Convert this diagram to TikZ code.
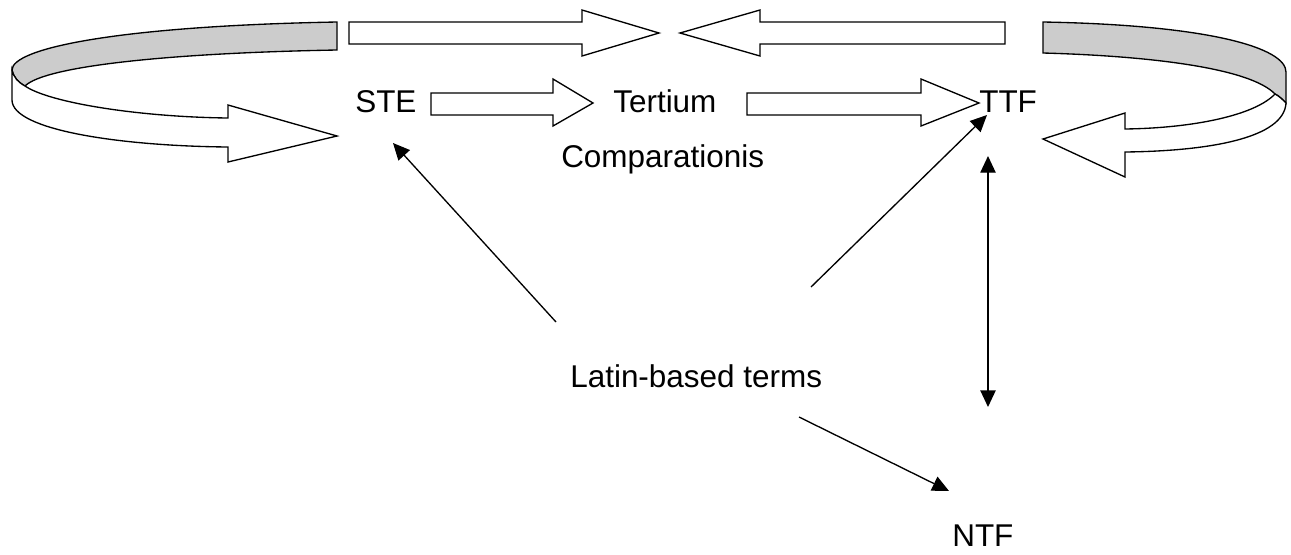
\documentclass[tikz,border=0pt]{standalone}
\usepackage{fontspec}
\setmainfont{Liberation Sans}
\usetikzlibrary{arrows.meta}
\begin{document}
\begin{tikzpicture}[x=0.75pt,y=-0.75pt,
  label/.style={anchor=base west,inner sep=0pt,font=\fontsize{23.6}{28}\selectfont},
  ribbon/.style={draw=black,line width=1pt,line join=miter},
  band/.style={ribbon,fill=white},
  backside/.style={ribbon,fill=black!20},
  link/.style={draw=black,line width=1pt,-{Triangle[length=12.5pt,width=11.5pt]}},
  twoway/.style={draw=black,line width=1pt,{Triangle[length=12.5pt,width=11.5pt]}-{Triangle[length=12.5pt,width=11.5pt]}}]
\useasboundingbox (0,0) rectangle (1291,554);

% text labels
\node[label] (ste) at (355,112) {STE};
\node[label] (tert) at (613,112) {Tertium};
\node[label] (comp) at (561,167) {Comparationis};
\node[label] (ttf) at (979,112) {TTF};
\node[label] (lat) at (570,387) {Latin-based terms};
\node[label] (ntf) at (952,546) {NTF};

% top pair of block arrows meeting in the middle
\draw[band] (349,22) -- (582,22) -- (582,10) -- (659,33) -- (582,56) -- (582,44) -- (349,44) -- cycle;
\draw[band] (1005,22) -- (760,22) -- (760,10) -- (680,33) -- (760,56) -- (760,44) -- (1005,44) -- cycle;

% block arrows on the middle row
\draw[band] (431,93) -- (553,93) -- (553,79) -- (593,103) -- (553,126) -- (553,115) -- (431,115) -- cycle;
\draw[band] (747,93) -- (921,93) -- (921,79) -- (979,103) -- (921,126) -- (921,115) -- (747,115) -- cycle;

% left curved ribbon arrow
\draw[backside] (337,22) .. controls (120,26) and (12,48) .. (12,70)
  .. controls (14,78) and (18,82) .. (25,86)
  .. controls (45,66) and (170,53) .. (337,50) -- cycle;
\draw[band] (12,70) -- (12,100)
  .. controls (12,130) and (120,146) .. (228,147)
  -- (228,162) -- (337,136) -- (228,105) -- (228,118)
  .. controls (140,117) and (50,103) .. (25,86)
  .. controls (18,82) and (14,78) .. (12,70) -- cycle;

% right curved ribbon arrow
\draw[backside] (1043,22) .. controls (1210,25) and (1286,48) .. (1286,72)
  -- (1286,103) .. controls (1282,99) and (1279,96) .. (1275,94)
  .. controls (1250,68) and (1150,56) .. (1043,53) -- cycle;
\draw[band] (1286,103)
  .. controls (1284,138) and (1210,151) .. (1125,152)
  -- (1125,177) -- (1043,139) -- (1125,113) -- (1125,129)
  .. controls (1195,128) and (1255,115) .. (1275,94)
  .. controls (1279,96) and (1282,99) .. (1286,103) -- cycle;

% connector end points
\coordinate (steIn) at (393,143);
\coordinate (steOut) at (556,322);
\coordinate (ttfIn) at (987,115);
\coordinate (ttfOut) at (811,287);
\coordinate (upEnd) at (988,156);
\coordinate (downEnd) at (988,407);
\coordinate (ntfOut) at (799,417);
\coordinate (ntfIn) at (949,491);

% thin arrows
\draw[link] (steOut) -- (steIn);
\draw[link] (ttfOut) -- (ttfIn);
\draw[twoway] (upEnd) -- (downEnd);
\draw[link] (ntfOut) -- (ntfIn);
\end{tikzpicture}
\end{document}
